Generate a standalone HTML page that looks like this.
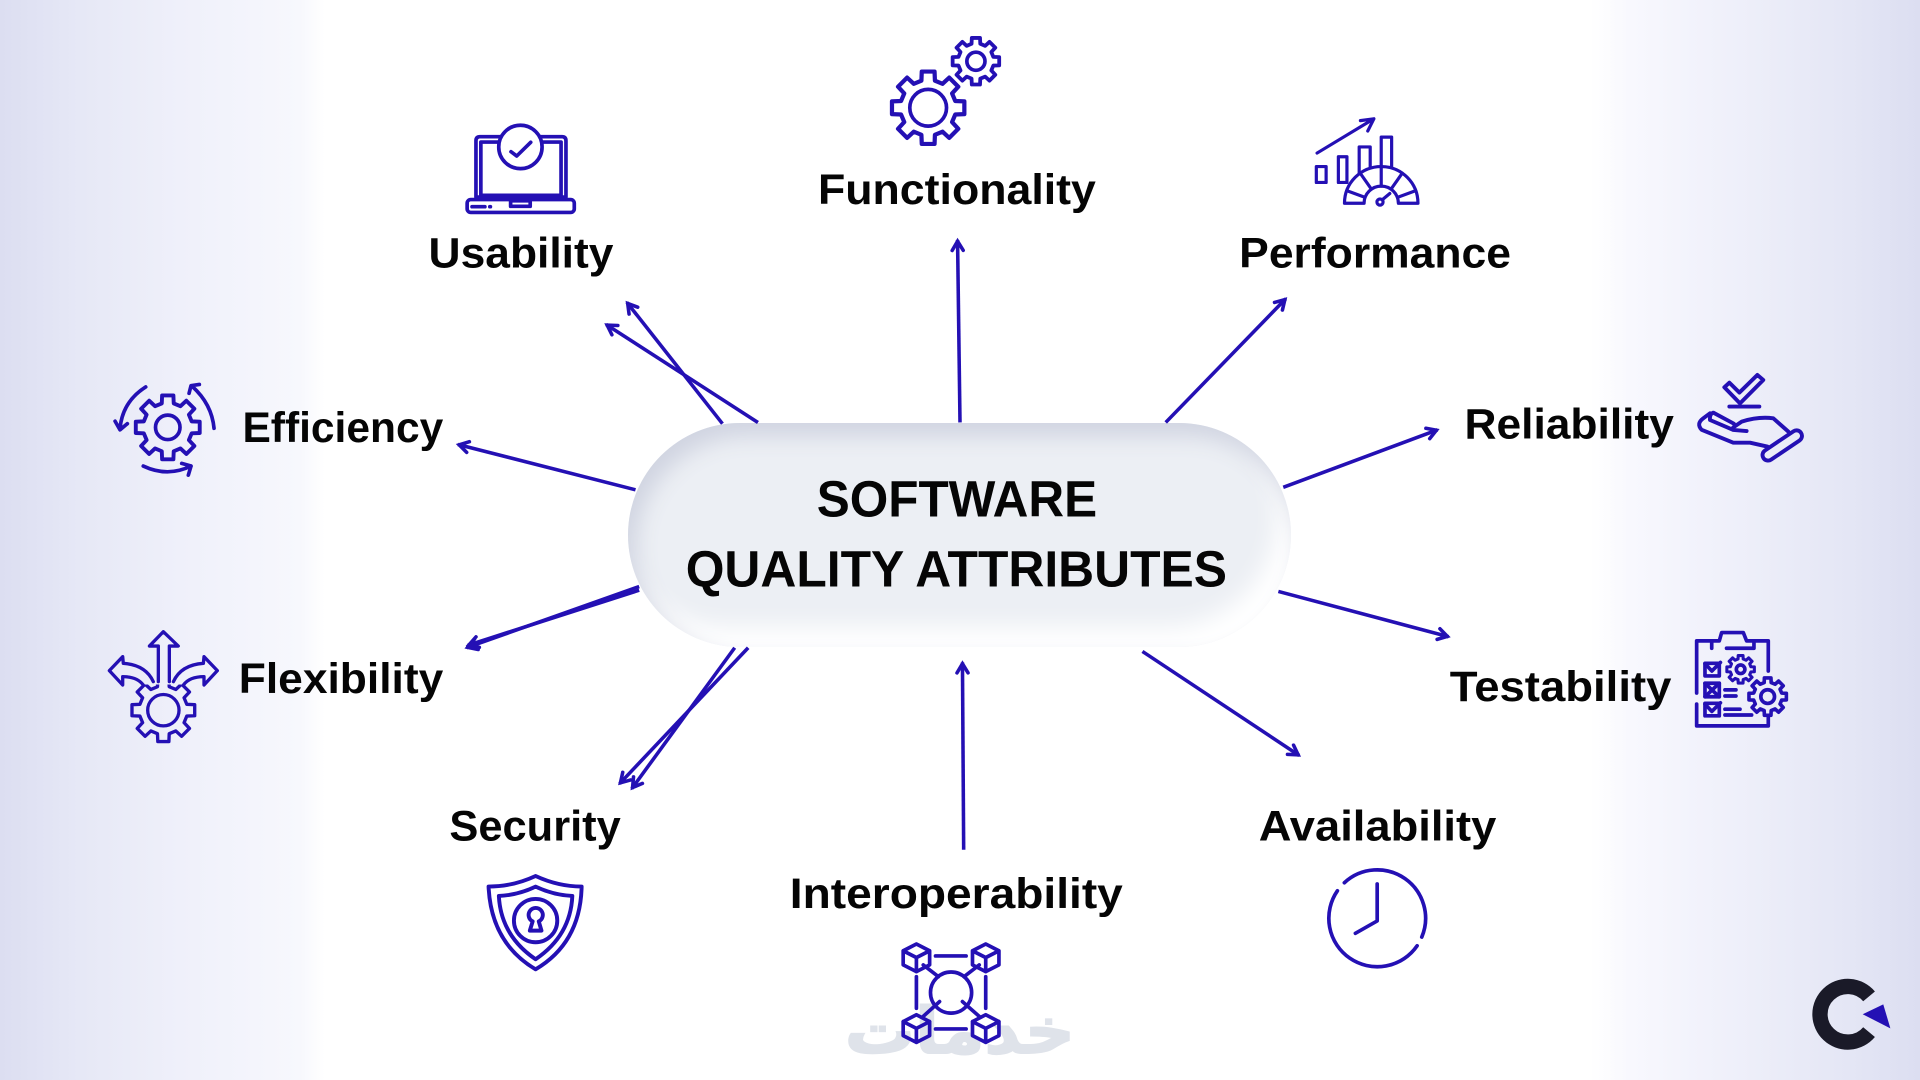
<!DOCTYPE html>
<html lang="en"><head><meta charset="utf-8"><title>Software Quality Attributes</title>
<style>
html,body{margin:0;padding:0;width:1920px;height:1080px;overflow:hidden;background:#fff}
#bg{position:absolute;left:0;top:0;width:1920px;height:1080px;background:linear-gradient(90deg,#dcdef1 0,#e6e8f6 80px,#eff0fa 180px,#f7f8fd 300px,#fff 325px,#fff 1590px,#f8f8fe 1630px,#eff0fa 1730px,#e4e6f5 1850px,#dcdef1 1920px)}
#pill{position:absolute;left:628px;top:423px;width:663px;height:224px;border-radius:112px;background:#eceff4;box-shadow:inset 8px 13px 22px #d0d4e1,inset -14px -20px 24px #fff}
svg{position:absolute;left:0;top:0}
text{font-family:"Liberation Sans",sans-serif;font-weight:700;fill:#050505}
.i{fill:none;stroke:#2410b4;stroke-width:3;stroke-linejoin:round;stroke-linecap:round}
.a{fill:none;stroke:#2410b4;stroke-width:2.9;marker-end:url(#h)}
</style></head><body>
<div id="bg"></div><div id="pill"></div>
<svg width="1920" height="1080" viewBox="0 0 1568 882" xmlns="http://www.w3.org/2000/svg">
<defs>
<marker id="h" markerUnits="userSpaceOnUse" markerWidth="24" markerHeight="24" refX="13.5" refY="12" orient="auto">
<path d="M5 7.5L12.5 12L5 16.5" fill="none" stroke="#2410b4" stroke-width="2.9" stroke-linecap="round"/>
</marker>
<symbol id="g" overflow="visible"><polygon points="7.37,-1.84 9.85,-1.74 9.85,1.74 7.37,1.84 6.51,3.91 8.2,5.73 5.73,8.2 3.91,6.51 1.84,7.37 1.74,9.85 -1.74,9.85 -1.84,7.37 -3.91,6.51 -5.73,8.2 -8.2,5.73 -6.51,3.91 -7.37,1.84 -9.85,1.74 -9.85,-1.74 -7.37,-1.84 -6.51,-3.91 -8.2,-5.73 -5.73,-8.2 -3.91,-6.51 -1.84,-7.37 -1.74,-9.85 1.74,-9.85 1.84,-7.37 3.91,-6.51 5.73,-8.2 8.2,-5.73 6.51,-3.91"/></symbol>
<clipPath id="fc"><rect x="90" y="559" width="90" height="60"/></clipPath>
</defs>

<!-- watermark -->
<text x="690" y="860" font-size="52" textLength="188" lengthAdjust="spacingAndGlyphs" style="font-family:'DejaVu Sans',sans-serif;fill:#dfe3ea;stroke:#dfe3ea;stroke-width:1.6;font-weight:700">خدمات</text>

<!-- arrows -->
<path class="a" d="M784 345L782 196"/>
<path class="a" d="M952 345L1050 244"/>
<path class="a" d="M1048 398L1174 351"/>
<path class="a" d="M1044 483L1183 520"/>
<path class="a" d="M933 532L1061 617"/>
<path class="a" d="M787 694L786 541"/>
<path class="a" d="M611 529L506 640"/>
<path class="a" d="M600 529L516 644"/>
<path class="a" d="M522 479L381 529"/>
<path class="a" d="M522 482L382 527"/>
<path class="a" d="M519 400L374 363"/>
<path class="a" d="M619 345L495 265"/>
<path class="a" d="M590 346L512 247"/>

<!-- labels -->
<text x="667" y="422" font-size="42" textLength="229" lengthAdjust="spacingAndGlyphs">SOFTWARE</text>
<text x="560" y="479" font-size="42" textLength="442" lengthAdjust="spacingAndGlyphs">QUALITY ATTRIBUTES</text>
<g font-size="35">
<text x="668" y="166.5" font-size="35" textLength="227" lengthAdjust="spacingAndGlyphs">Functionality</text>
<text x="350" y="218.5" font-size="35" textLength="151" lengthAdjust="spacingAndGlyphs">Usability</text>
<text x="1012" y="218.5" font-size="35" textLength="222" lengthAdjust="spacingAndGlyphs">Performance</text>
<text x="198" y="361" font-size="35" textLength="164" lengthAdjust="spacingAndGlyphs">Efficiency</text>
<text x="1196" y="358" font-size="35" textLength="171" lengthAdjust="spacingAndGlyphs">Reliability</text>
<text x="195" y="566" font-size="35" textLength="167" lengthAdjust="spacingAndGlyphs">Flexibility</text>
<text x="1184" y="572.5" font-size="35" textLength="181" lengthAdjust="spacingAndGlyphs">Testability</text>
<text x="367" y="686.5" font-size="35" textLength="140" lengthAdjust="spacingAndGlyphs">Security</text>
<text x="1028" y="686.5" font-size="35" textLength="194" lengthAdjust="spacingAndGlyphs">Availability</text>
<text x="645" y="741.5" font-size="35" textLength="272" lengthAdjust="spacingAndGlyphs">Interoperability</text>
</g>

<!-- Functionality -->
<g class="i">
<use href="#g" transform="translate(758 88) scale(3)" style="stroke-width:1.15"/>
<circle cx="758" cy="88" r="15"/>
<use href="#g" transform="translate(797 50) scale(1.93)" style="stroke-width:1.6"/>
<circle cx="797" cy="50" r="7.4"/>
</g>

<!-- Performance -->
<g class="i" style="stroke-width:2.6">
<path d="M1075.6 125L1122 97M1111 98.5L1122 97L1117 107"/>
<rect x="1075" y="136" width="8" height="13"/>
<path d="M1093 149V128H1100V149ZM1110 142V120H1119V137M1128 136V112H1136.5V136"/>
<path d="M1098 166A30 30 0 0 1 1158 166H1142A14 14 0 0 0 1114 166Z"/>
<path d="M1128 136V152M1136 154.5L1145.2 141.4M1120 154.5L1110.8 141.4M1141.2 161.2L1156.2 155.7M1114.8 161.2L1099.8 155.7"/>
<circle cx="1127" cy="165" r="2.5"/><path d="M1129 163L1135 158"/>
</g>

<!-- Usability -->
<g class="i">
<path d="M392 111.6Q388.7 111.6 388.7 115V161H462.2V115Q462.2 111.6 459 111.6Z"/>
<rect x="392.7" y="116" width="65.5" height="43.5"/>
<rect x="381.5" y="163" width="87.5" height="10.5" rx="3"/>
<circle cx="425" cy="120" r="17.7" fill="#fff"/>
<path d="M417.3 123.9L422 127.4L433.4 116.2"/>
<path d="M385.5 168.8H396M400 168.8h.5"/>
<rect x="417" y="164" width="16" height="4.5"/>
</g>

<!-- Efficiency -->
<g class="i">
<use href="#g" transform="translate(137 349) scale(2.65)" style="stroke-width:1.2"/>
<circle cx="137" cy="349" r="10"/>
<path d="M119 316Q100 328 98 350M94 344L98 351L104 346"/>
<path d="M174.8 349.8Q173 330 157 315.5M154.4 321.2L156 315L162.8 314"/>
<path d="M117 380.6Q137 390 156 380.6M148.4 378.4L156 380.6L153.8 388"/>
</g>

<!-- Flexibility -->
<g class="i" style="stroke-width:2.7">
<g clip-path="url(#fc)"><use href="#g" transform="translate(133.4 580) scale(2.6)" style="stroke-width:1.05"/></g>
<circle cx="133.4" cy="580" r="12.8"/>
<path d="M129.3 556.7V527.6H122L133.4 515.9L145.6 527.6H138.3V556.7"/>
<path d="M125.2 556.7Q119 543 100.7 541.7L100.2 536.3L89.3 547.7L100.2 559.4V552.6Q112 552.6 117 559.4"/>
<path d="M141.6 556.7Q147.8 543 166.1 541.7L166.6 536.3L177.5 547.7L166.6 559.4V552.6Q154.8 552.6 149.8 559.4"/>
</g>

<!-- Reliability -->
<g class="i" style="stroke-width:3.2">
<path d="M1408.2 316.3L1412.3 312.5L1420.5 320.6L1435.2 306.2L1440 310.3L1421 329.4Z"/>
<path d="M1412.3 332H1436.8"/>
<rect x="-18.5" y="-4.5" width="37" height="9" rx="4.5" transform="translate(1455.5 363.8) rotate(-34)"/>
<path d="M1460.5 352.5L1448.2 341.6Q1436 340 1422.4 344.3L1415.5 349M1416 346L1399.2 337Q1396 338 1396.5 343L1415.5 351.1L1426.4 352"/>
<path d="M1396.5 337.5L1391 341.6Q1385 346 1389.7 351L1415.5 361.5H1429.2L1443.3 364.7"/>
</g>

<!-- Testability -->
<g class="i">
<path d="M1385.6 566V523.4H1397.9V529.4M1397.9 523.4H1404.1L1406 516.6H1423.7L1426.4 523.4H1432.4V529.4H1410M1432.4 523.4H1444.1V548M1385.6 575V592.8H1444.1V586"/>
<rect x="1392.4" y="541.7" width="11.7" height="10.3"/>
<rect x="1392.4" y="558" width="11.7" height="11"/>
<rect x="1392.4" y="574.4" width="11.7" height="10.2"/>
<path d="M1392.4 542L1398 548L1405 541M1392.4 558L1404 569M1404 558L1392.4 569M1392.4 575L1398 581L1405 574"/>
<path d="M1408.7 563.4H1417.7M1408.7 568.4H1417.7M1408.7 579.2H1421M1408.7 583.9H1430.5"/>
<use href="#g" transform="translate(1421.5 546.6) scale(1.14)" style="stroke-width:2.2"/>
<circle cx="1421.5" cy="546.6" r="3.5"/>
<use href="#g" transform="translate(1443.6 568.9) scale(1.55)" style="stroke-width:1.9"/>
<circle cx="1443.6" cy="568.9" r="5.6"/>
</g>

<!-- Security -->
<g class="i" style="stroke-width:3.2">
<path d="M437.4 715.4Q456 724 475 724Q474 770 437.4 791.6Q401 770 399 724Q419 724 437.4 715.4Z"/>
<path d="M437.4 724.1Q452 731 467.4 731.7Q466 764 437.4 783.4Q409 764 407.4 731.7Q423 731 437.4 724.1Z"/>
<circle cx="437.4" cy="751.8" r="17.7"/>
<path d="M432.7 760L435 752.5A5.8 5.8 0 1 1 440 752.5L442.2 760Z"/>
</g>

<!-- Interoperability -->
<g class="i">
<path d="M748.4 770.9L759.2 776.5V788L748.4 793.5L737.6 788V776.5ZM737.6 776.5L748.4 782L759.2 776.5M748.4 782V793.5"/>
<path d="M805 770.9L815.8 776.5V788L805 793.5L794.2 788V776.5ZM794.2 776.5L805 782L815.8 776.5M805 782V793.5"/>
<path d="M748.4 828.7L759.2 834.3V845.8L748.4 851.3L737.6 845.8V834.3ZM737.6 834.3L748.4 839.8L759.2 834.3M748.4 839.8V851.3"/>
<path d="M805 828.7L815.8 834.3V845.8L805 851.3L794.2 845.8V834.3ZM794.2 834.3L805 839.8L815.8 834.3M805 839.8V851.3"/>
<circle cx="776.7" cy="810.6" r="16.8"/>
<path d="M764 780.7H789M764 840.3H789M748.4 797.6V823.4M805 797.6V823.4M754 788L766.4 797.6M799.7 788L787.3 797.6M767.3 818L754 830M786 818L799.7 830"/>
</g>

<!-- Availability -->
<g class="i">
<path d="M1097.9 720.9A39.5 39.5 0 0 1 1161.1 765.3M1157.3 772.4A39.5 39.5 0 1 1 1092.2 727.5"/>
<path d="M1124.7 721.9V752.1L1106.9 762.2"/>
</g>

<!-- Logo -->
<path d="M1526.4 813.7A22.7 22.7 0 1 0 1526.4 842.9" fill="none" stroke="#1a1a28" stroke-width="12.5"/>
<polygon points="1521.2,828.3 1538,820.2 1543.8,839.8" fill="#2410b4"/>
</svg>
</body></html>
